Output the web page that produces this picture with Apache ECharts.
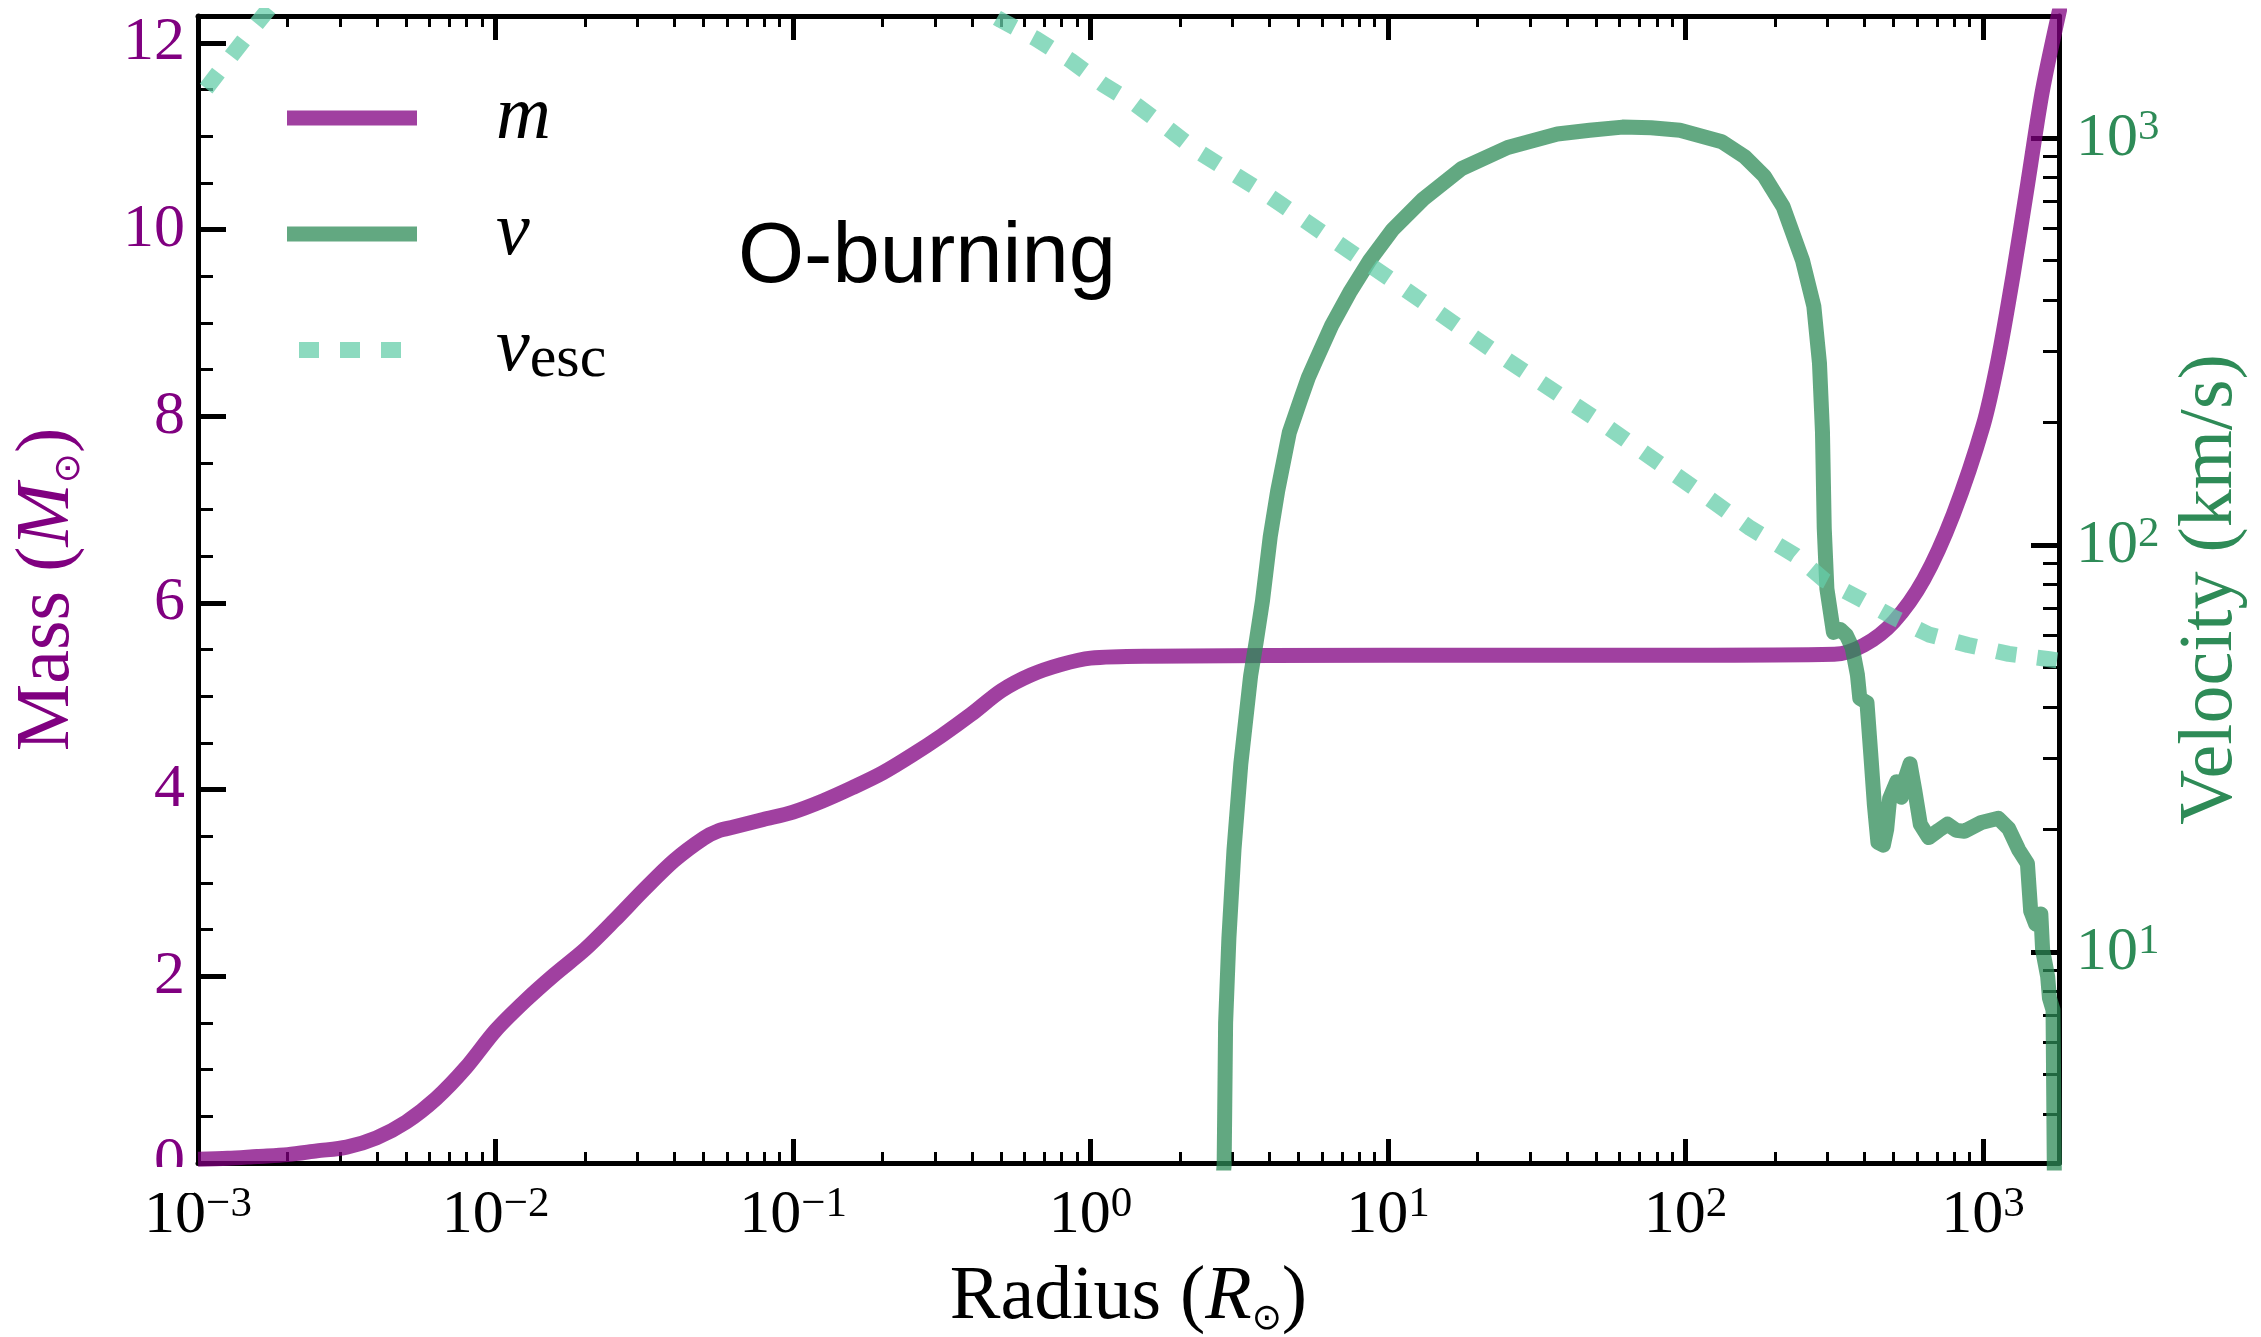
<!DOCTYPE html>
<html><head><meta charset="utf-8">
<script src="https://cdn.jsdelivr.net/npm/echarts@6/dist/echarts.min.js"></script>
<style>html,body{margin:0;padding:0;background:#fff}#c{width:2261px;height:1337px}</style>
</head><body><div id="c"></div>
<script>
// ---------- data ----------
const radiusMass = [0.001,0.00126,0.00158,0.002,0.00251,0.00316,0.00398,0.00501,0.00631,0.00794,
  0.01,0.0126,0.0158,0.02,0.0251,0.0316,0.0398,0.0501,0.0562,0.0631,0.0794,
  0.1,0.126,0.158,0.2,0.251,0.316,0.398,0.501,0.631,0.794,1.0,1.58,10,100,
  316,398,501,631,794,1000,1122,1259,1413,1585,1820];
const massValues = [0.04,0.05,0.07,0.09,0.13,0.17,0.27,0.44,0.69,1.02,
  1.42,1.74,2.02,2.29,2.60,2.93,3.24,3.48,3.56,3.60,3.68,
  3.76,3.88,4.02,4.18,4.37,4.58,4.81,5.06,5.23,5.34,5.41,5.43,5.44,5.44,
  5.45,5.55,5.80,6.25,6.95,7.90,8.60,9.50,10.5,11.5,12.4];

const radiusVel = [2.754,2.812,2.844,2.917,3.034,3.199,3.451,3.606,3.784,4.018,4.256,4.656,5.093,5.395,5.728,
  6.457,7.482,8.670,10.35,13.12,17.66,25.23,37.07,47.6,61.38,76.6,95.72,132.4,158.5,183.7,212.8,247.2,269.8,
  281.8,288.4,292.4,298.5,314,331,347,363,378,385,407,420,431,443,462,474,485,512,531,550,568,589,
  615,656,708,759,813,865,986,1125,1219,1318,1409,1445,1503,1563,1585,1648,1671,1718,1738];
const velValues = [2.5,3.0,6.7,10.8,17.8,29,47.7,58,73,105,136,189,229,258,285,
  346,421,500,595,708,841,948,1023,1045,1064,1060,1045,979,898,807,678,500,386,
  280,190,110,78,61,62,60,56,48,42,41,30,23,18.6,18.3,20,23.8,26.2,24,27,29,25,
  20.6,19.1,19.9,20.6,19.9,19.8,20.8,21.3,20.1,17.8,16.5,12.6,11.7,12.4,10.1,8.7,7.7,7.2,2.5];

const radiusEsc = [0.001,0.00105,0.00127,0.00154,0.00174,0.3,0.447,0.499,0.655,0.859,1.10,1.41,1.80,2.24,
  3.94,10.7,23.2,50.5,107,165,233,294,389,498,656,889,1219,1671,1799];
const escValues = [1259,1306,1563,1871,2089,null,2042,1950,1754,1549,1355,1213,1062,938,
  724,439,296,203,138,110,94.4,81.8,73.5,66.5,60.3,56.8,54,52.4,52];

const xMajorTicks = [0.001,0.01,0.1,1,10,100,1000];
const massTicks = [0,2,4,6,8,10,12];
const velTicks = [10,100,1000];
const xRange = [0.001, 1799];
const massRange = [0, 12.29];
const velRange = [3.03, 1995];

// ---------- helpers ----------
function minorLog(lo, hi) {
  const out = [];
  for (let e = Math.floor(Math.log10(lo)); e <= Math.ceil(Math.log10(hi)); e++) {
    for (let k = 2; k <= 9; k++) {
      const v = +(k * Math.pow(10, e)).toPrecision(3);
      if (v >= lo && v <= hi) out.push(v);
    }
  }
  return out;
}
const massMinor = [];
for (let v = 0; v <= 12; v += 0.5) massMinor.push(v);

const serif = "'Liberation Serif','DejaVu Serif',serif";
const PURPLE = '#800080', GREEN = '#2E8B57';
function expStr(v) {
  const e = Math.round(Math.log10(v));
  return e < 0 ? '\u2212' + (-e) : String(e);
}
function supRich(color) {
  return {
    b: {fontFamily: serif, fontSize: 62, color: color, lineHeight: 64, verticalAlign: 'bottom'},
    s: {fontFamily: serif, fontSize: 43, color: color, lineHeight: 40, verticalAlign: 'top'}
  };
}
const nameRich = (color) => ({
  n: {fontFamily: serif, fontSize: 76, color: color, lineHeight: 80},
  i: {fontFamily: serif, fontSize: 76, fontStyle: 'italic', color: color, lineHeight: 80},
  sub: {fontFamily: "'DejaVu Sans',sans-serif", fontSize: 36, color: color, lineHeight: 46, verticalAlign: 'bottom'}
});

const axisLine = {show: true, onZero: false, lineStyle: {color: '#000', width: 5}};
const noLine = {show: false, onZero: false};

function xAx(pos, major, withLabel) {
  const ax = {
    type: 'log', logBase: 10, min: xRange[0], max: xRange[1], position: pos,
    axisLine: major ? axisLine : noLine,
    splitLine: {show: false},
    axisTick: {show: true, inside: true, length: major ? 24 : 11,
      lineStyle: {color: '#000', width: major ? 5 : 3},
      customValues: major ? xMajorTicks : minorLog(xRange[0], xRange[1])},
    axisLabel: {show: false}
  };
  if (withLabel) {
    ax.axisLabel = {show: true, customValues: xMajorTicks, margin: 20,
      formatter: v => '{b|10}{s|' + expStr(v) + '}', rich: supRich('#000')};
    ax.name = '{n|Radius (}{i|R}{sub|\u2299}{n|)}';
    ax.nameLocation = 'middle';
    ax.nameGap = 95;
    ax.nameTextStyle = {rich: nameRich('#000')};
  }
  return ax;
}

const yAxes = [
  { // mass major + labels
    type: 'value', position: 'left', min: massRange[0], max: massRange[1],
    axisLine: axisLine, splitLine: {show: false},
    axisTick: {show: true, inside: true, length: 28, lineStyle: {color: '#000', width: 5}, customValues: massTicks},
    axisLabel: {show: true, customValues: massTicks, margin: 13, color: PURPLE, fontFamily: serif, fontSize: 62},
    name: '{n|Mass (}{i|M}{sub|\u2299}{n|)}', nameLocation: 'middle', nameRotate: 90, nameGap: 110,
    nameTextStyle: {rich: nameRich(PURPLE)}
  },
  { // mass minor
    type: 'value', position: 'left', min: massRange[0], max: massRange[1],
    axisLine: noLine, splitLine: {show: false},
    axisTick: {show: true, inside: true, length: 15, lineStyle: {color: '#000', width: 3}, customValues: massMinor},
    axisLabel: {show: false}
  },
  { // velocity major + labels
    type: 'log', logBase: 10, position: 'right', min: velRange[0], max: velRange[1],
    axisLine: axisLine, splitLine: {show: false},
    axisTick: {show: true, inside: true, length: 28, lineStyle: {color: '#000', width: 5}, customValues: velTicks},
    axisLabel: {show: true, customValues: velTicks, margin: 17,
      formatter: v => '{b|10}{s|' + expStr(v) + '}', rich: supRich(GREEN)},
    name: 'Velocity (km/s)', nameLocation: 'middle', nameRotate: 90, nameGap: 114,
    nameTextStyle: {fontFamily: serif, fontSize: 76, color: GREEN}
  },
  { // velocity minor
    type: 'log', logBase: 10, position: 'right', min: velRange[0], max: velRange[1],
    axisLine: noLine, splitLine: {show: false},
    axisTick: {show: true, inside: true, length: 16, lineStyle: {color: '#000', width: 3},
      customValues: minorLog(velRange[0], velRange[1])},
    axisLabel: {show: false}
  }
];

const toPairs = (xs, ys) => xs.map((x, i) => [x, ys[i] == null ? '-' : ys[i]]);

const option = {
  animation: false,
  backgroundColor: '#fff',
  grid: {left: 198, right: 202, top: 16, bottom: 174, containLabel: false, outerBoundsMode: 'none'},
  xAxis: [xAx('bottom', true, true), xAx('bottom', false, false), xAx('top', true, false), xAx('top', false, false)],
  yAxis: yAxes,
  legend: {
    show: true, orient: 'vertical', left: 274, top: 75, itemWidth: 130, itemHeight: 20, itemGap: 40,
    selectedMode: false, data: ['m', 'v', 'vesc'],
    formatter: n => ({m: '{g|}{i|m}', v: '{g|}{i|v}', vesc: '{g|}{i|v}{sub|esc}'})[n],
    lineStyle: {width: 'inherit'},
    itemStyle: {opacity: 0},
    textStyle: {rich: {
      g: {width: 74},
      i: {fontFamily: serif, fontStyle: 'italic', fontSize: 76, lineHeight: 80, color: '#000'},
      sub: {fontFamily: serif, fontSize: 60, lineHeight: 52, verticalAlign: 'bottom', color: '#000'}
    }}
  },
  graphic: [
    {type: 'text', left: 738, top: 216, z: 50,
      style: {text: 'O-burning', fontFamily: "'Liberation Sans',Arial,sans-serif", fontSize: 85, fill: '#000'}},
    {type: 'rect', z: 100, shape: {x: 120, y: 1167, width: 74, height: 26}, style: {fill: '#fff'}}
  ],
  series: [
    {name: 'm', type: 'line', xAxisIndex: 0, yAxisIndex: 0, data: toPairs(radiusMass, massValues),
      showSymbol: false, symbol: 'none', smooth: 0.3,
      lineStyle: {color: PURPLE, width: 15, opacity: 0.75, cap: 'butt', join: 'round'},
      itemStyle: {color: PURPLE, opacity: 0.75}},
    {name: 'v', type: 'line', xAxisIndex: 0, yAxisIndex: 2, data: toPairs(radiusVel, velValues),
      showSymbol: false, symbol: 'none', smooth: false,
      lineStyle: {color: GREEN, width: 15, opacity: 0.75, cap: 'butt', join: 'round'},
      itemStyle: {color: GREEN, opacity: 0.75}},
    {name: 'vesc', type: 'line', xAxisIndex: 0, yAxisIndex: 2, data: toPairs(radiusEsc, escValues),
      showSymbol: false, symbol: 'none', connectNulls: false,
      lineStyle: {color: '#66CDAA', width: 16, opacity: 0.75, type: [20, 21], dashOffset: -12, cap: 'butt'},
      itemStyle: {color: '#66CDAA', opacity: 0.75}}
  ]
};
const chart = echarts.init(document.getElementById('c'), null, {renderer: 'canvas'});
chart.setOption(option);
</script>
</body></html>
